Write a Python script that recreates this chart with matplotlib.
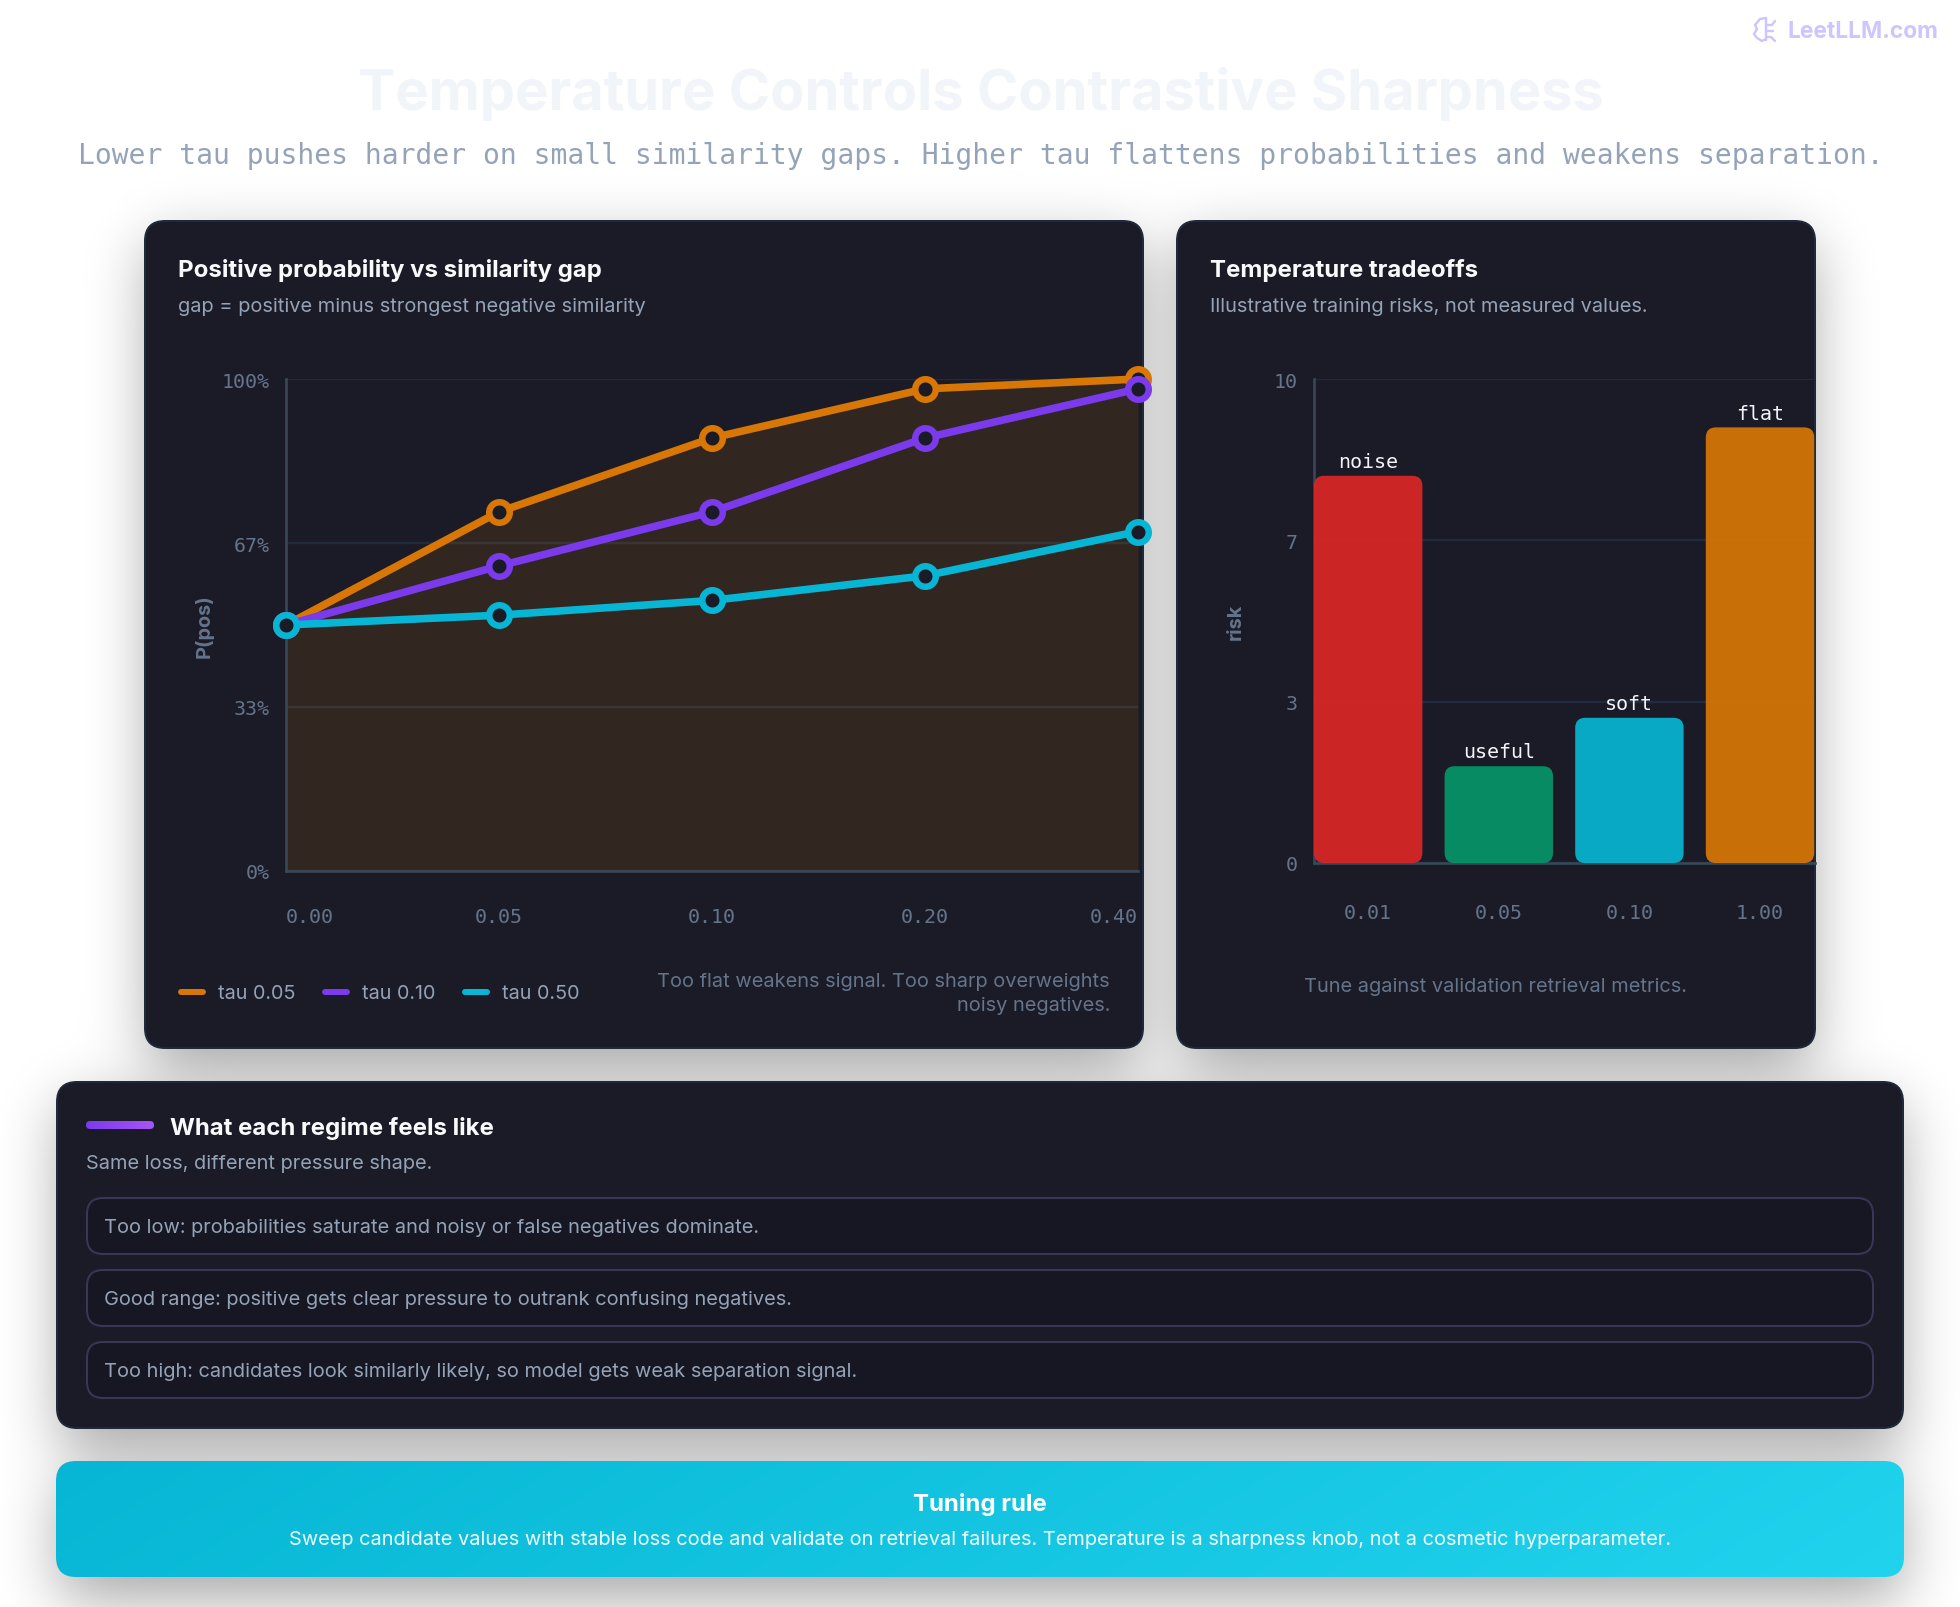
import numpy as np
import matplotlib
matplotlib.use("Agg")
import matplotlib.pyplot as plt
from matplotlib.colors import to_rgb
from matplotlib.patches import FancyBboxPatch

W, H = 1960, 1608

# line chart data
gap_labels = ["0.00", "0.05", "0.10", "0.20", "0.40"]
tau_names = ["tau 0.05", "tau 0.10", "tau 0.50"]
tau_005 = [50, 73, 88, 98, 100]
tau_010 = [50, 62, 73, 88, 98]
tau_050 = [50, 52, 55, 60, 69]
tau_colors = ["#d97706", "#7c3aed", "#06b6d4"]

# bar chart data
temp_labels = ["0.01", "0.05", "0.10", "1.00"]
risk_values = [8, 2, 3, 9]
risk_names = ["noise", "useful", "soft", "flat"]
risk_colors = ["#dc2626", "#059669", "#06b6d4", "#d97706"]

regime_rows = [
    "Too low: probabilities saturate and noisy or false negatives dominate.",
    "Good range: positive gets clear pressure to outrank confusing negatives.",
    "Too high: candidates look similarly likely, so model gets weak separation signal.",
]

SANS = ["Inter", "DejaVu Sans"]
MONO = ["DejaVu Sans Mono"]
CARD = "#1a1b26"
EDGE = "#1e293b"
GRID = "#202c3e"
AXIS = "#3a4759"
MUTED = "#94a3b8"
DIM = "#64748b"


def pt(px):
    # font sizes and line widths are worked out in pixels, fig is 100 dpi
    return px * 0.72


def px_axes(left, top, right, bottom):
    ax = fig.add_axes([left / W, 1 - bottom / H, (right - left) / W, (bottom - top) / H])
    ax.patch.set_alpha(0)
    return ax


def blur_profile(size, a, b, sigma):
    grid = np.arange(size) + 0.5
    step = ((grid >= a) & (grid <= b)).astype(float)
    k = np.arange(-int(4 * sigma), int(4 * sigma) + 1)
    kernel = np.exp(-0.5 * (k / sigma) ** 2)
    kernel /= kernel.sum()
    return np.convolve(np.pad(step, len(k), mode="edge"), kernel, mode="same")[len(k):-len(k)]


def card(x0, y0, x1, y1, face=CARD, edge=EDGE, radius=20, lw=2, z=2):
    box = FancyBboxPatch((x0, y0), x1 - x0, y1 - y0, boxstyle=f"round,pad=0,rounding_size={radius}",
                         facecolor=face, edgecolor=edge, linewidth=pt(lw), zorder=z)
    canvas.add_patch(box)
    return box


def gradient(x0, y0, x1, y1, c0, c1, radius, z=3, tilt=0.0):
    box = card(x0, y0, x1, y1, face="none", edge="none", radius=radius, lw=0, z=z)
    xx, yy = np.meshgrid(np.linspace(0, 1, 300), np.linspace(0, 1, 60))
    t = np.clip((xx + tilt * yy) / (1 + tilt), 0, 1)[..., None]
    img = np.array(to_rgb(c0)) * (1 - t) + np.array(to_rgb(c1)) * t
    im = canvas.imshow(img, extent=(x0, x1, y1, y0), aspect="auto", zorder=z, interpolation="bilinear")
    im.set_clip_path(box)


def label(x, y, s, size=20, color=MUTED, family=None, weight="normal", ha="left", va="center", z=6):
    canvas.text(x, y, s, fontsize=pt(size), color=color, family=family or SANS, fontweight=weight,
                ha=ha, va=va, zorder=z)


fig = plt.figure(figsize=(W / 100, H / 100), dpi=100, facecolor="white")
canvas = fig.add_axes([0, 0, 1, 1])
canvas.axis("off")

panels = [(145, 222, 1143, 1049), (1177, 222, 1815, 1049), (57, 1083, 1903, 1429), (56, 1462, 1904, 1578)]

# soft drop shadows under all four panels
keep = np.ones((H, W))
for x0, y0, x1, y1 in panels:
    prof_x = blur_profile(W, x0 + 4, x1 - 4, 30)
    prof_y = blur_profile(H, y0 + 22, y1 + 22, 30)
    keep *= 1 - 0.35 * np.outer(prof_y, prof_x)
shadow = np.zeros((H, W, 4))
shadow[..., 3] = 1 - keep
canvas.imshow(shadow, extent=(0, W, H, 0), aspect="auto", zorder=1)

for x0, y0, x1, y1 in panels[:3]:
    card(x0, y0, x1, y1)

# header
label(981, 94, "Temperature Controls Contrastive Sharpness", size=56, color="#f1f5f9", weight="bold", ha="center")
label(981, 156, "Lower tau pushes harder on small similarity gaps. Higher tau flattens probabilities and weakens separation.",
      size=27.97, color=MUTED, family=MONO, ha="center")
label(1787, 32, "LeetLLM.com", size=22.8, color="#d0c4ff", weight="bold")

# little brain glyph next to the site name
icon_strokes = [
    ([1766, 1760, 1755, 1757, 1754, 1757, 1762, 1766], [18, 19, 25, 29, 34, 38, 41, 39]),
    ([1766, 1766], [18, 40]),
    ([1766, 1772, 1775], [25, 25, 21]),
    ([1766, 1773], [31, 31]),
    ([1766, 1771, 1775], [37, 37, 41]),
]
for sx, sy in icon_strokes:
    canvas.plot(sx, np.array(sy) + 1, color="#d0c4ff", lw=pt(2.4), solid_capstyle="round", zorder=6)

# left panel
label(178, 271, "Positive probability vs similarity gap", size=24, color="#f8fafc", weight="bold")
label(178, 306.5, "gap = positive minus strongest negative similarity", size=20, color=MUTED)

ax = px_axes(286, 380, 1138, 872)
xs = np.arange(len(gap_labels))
ax.set_xlim(0, len(gap_labels) - 1)
ax.set_ylim(0, 100)
ax.set_yticks([0, 100 / 3, 200 / 3, 100], ["0%", "33%", "67%", "100%"])
ax.set_xticks(xs, gap_labels)
ax.grid(axis="y", color=GRID, lw=pt(2.4))
ax.set_axisbelow(True)
ax.fill_between(xs, 0, tau_005, color=tau_colors[0], alpha=0.13, lw=0, zorder=1)
for vals, col in zip([tau_005, tau_010, tau_050], tau_colors):
    ax.plot(xs, vals, color=col, lw=pt(7.6), marker="o", ms=pt(20.5), mew=pt(6.5), mfc=CARD, mec=col,
            clip_on=False, zorder=4)
for name in ["top", "right"]:
    ax.spines[name].set_visible(False)
for name in ["left", "bottom"]:
    ax.spines[name].set_color(AXIS)
    ax.spines[name].set_linewidth(pt(2.6))
ax.tick_params(length=0, colors=DIM, labelsize=pt(20), pad=pt(16))
ax.tick_params(axis="x", pad=pt(36.5))
for t in ax.get_xticklabels() + ax.get_yticklabels():
    t.set_family(MONO)
ax.get_xticklabels()[0].set_ha("left")
ax.get_xticklabels()[-1].set_ha("right")
ax.set_ylabel("P(pos)", fontsize=pt(20), color=DIM, family=SANS, fontweight="bold")
ax.yaxis.set_label_coords((214 - 286) / 852, 0.5)

# hand-placed legend row under the chart
for name, col, sx in zip(tau_names, tau_colors, [178, 322, 462]):
    canvas.plot([sx + 3, sx + 25], [993, 993], color=col, lw=pt(6), solid_capstyle="round", zorder=6)
    label(sx + 40, 994, name, size=19.8, color=MUTED)
label(1110, 982.5, "Too flat weakens signal. Too sharp overweights", size=20, color=DIM, ha="right")
label(1110, 1006.5, "noisy negatives.", size=20, color=DIM, ha="right")

# right panel
label(1210, 271, "Temperature tradeoffs", size=24, color="#f8fafc", weight="bold")
label(1210, 306.5, "Illustrative training risks, not measured values.", size=20, color=MUTED)

ax2 = px_axes(1314, 380, 1815, 864)
step = 130.6
bar_w = 108.4 / step
ax2.set_xlim(-bar_w / 2, 501 / step - bar_w / 2)
ax2.set_ylim(0, 10)
aspect = step / 48.4
for i, (v, col, name) in enumerate(zip(risk_values, risk_colors, risk_names)):
    ax2.add_patch(FancyBboxPatch((i - bar_w / 2, 0), bar_w, v,
                                 boxstyle=f"round,pad=0,rounding_size={10 / step}", mutation_aspect=aspect,
                                 facecolor=col, edgecolor="none", alpha=0.92, zorder=3, clip_on=False))
    ax2.text(i, v + 0.1, name, color="#f1f5f9", fontsize=pt(20), family=MONO, ha="center", va="bottom", zorder=4)
ax2.set_xticks(range(len(temp_labels)), temp_labels)
ax2.set_yticks([0, 10 / 3, 20 / 3, 10], ["0", "3", "7", "10"])
ax2.grid(axis="y", color=GRID, lw=pt(2.4))
ax2.set_axisbelow(True)
for name in ["top", "right"]:
    ax2.spines[name].set_visible(False)
for name in ["left", "bottom"]:
    ax2.spines[name].set_color(AXIS)
    ax2.spines[name].set_linewidth(pt(2.6))
ax2.tick_params(length=0, colors=DIM, labelsize=pt(20), pad=pt(16))
ax2.tick_params(axis="x", pad=pt(40.5))
for t in ax2.get_xticklabels() + ax2.get_yticklabels():
    t.set_family(MONO)
ax2.set_ylabel("risk", fontsize=pt(20), color=DIM, family=SANS, fontweight="bold")
ax2.yaxis.set_label_coords((1245 - 1314) / 501, 0.5)
label(1495, 987.5, "Tune against validation retrieval metrics.", size=20, color=DIM, ha="center")

# regime panel
gradient(86, 1122, 154, 1130, "#7c3aed", "#a855f7", radius=4)
label(170, 1129, "What each regime feels like", size=24, color="#f8fafc", weight="bold")
label(86, 1164, "Same loss, different pressure shape.", size=20, color=MUTED)
for (y0, y1), row in zip([(1199, 1255), (1271, 1327), (1343, 1399)], regime_rows):
    card(87, y0, 1873, y1, face="#161722", edge="#3a3658", radius=16, z=3)
    label(104, (y0 + y1) / 2 + 1, row, size=20, color=MUTED)

# tuning rule banner
gradient(56, 1462, 1904, 1578, "#06b6d4", "#22d3ee", radius=20, tilt=0.1)
label(980, 1504.5, "Tuning rule", size=24, color="#ffffff", weight="bold", ha="center")
label(980, 1540, "Sweep candidate values with stable loss code and validate on retrieval failures. Temperature is a sharpness knob, not a cosmetic hyperparameter.",
      size=20, color="#ecfeff", ha="center")

canvas.set_xlim(0, W)
canvas.set_ylim(H, 0)

fig.savefig("out.png", dpi=100, facecolor="white")
